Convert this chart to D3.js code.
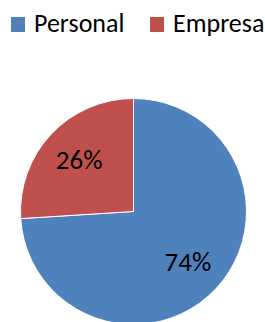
<!DOCTYPE html>
<html>
<head>
<meta charset="utf-8">
<script src="https://cdn.jsdelivr.net/npm/d3@7"></script>
<style>
  body { margin: 0; background: #fff; }
  svg { display: block; font-family: Carlito, Calibri, "Open Sans", sans-serif; }
</style>
</head>
<body>
<div id="chart"></div>
<script>
// data
let categories = ['Personal', 'Empresa'];
let values = [74, 26];
let colors = ['#4F81BD', '#C0504D'];

let width = 265;
let height = 322;

// pie position
let cx = 133.5, cy = 211.5, radius = 113;

let svg = d3.select('#chart').append('svg')
    .attr('width', width)
    .attr('height', height);

let color = d3.scaleOrdinal().domain(categories).range(colors);

let pie = d3.pie()
    .sort(null)
    .value(d => d.value);

let data = categories.map((c, i) => ({ name: c, value: values[i] }));
let arcs = pie(data);
let total = d3.sum(values);

let arc = d3.arc().innerRadius(0).outerRadius(radius);
let labelArc = d3.arc().innerRadius(radius * 0.66).outerRadius(radius * 0.66);

let g = svg.append('g')
    .attr('transform', 'translate(' + cx + ',' + cy + ')');

g.selectAll('.slice')
    .data(arcs)
    .enter()
    .append('path')
    .attr('class', 'slice')
    .attr('d', arc)
    .style('fill', d => color(d.data.name))
    .style('stroke', '#fff')
    .style('stroke-width', 1);

g.selectAll('.label')
    .data(arcs)
    .enter()
    .append('text')
    .attr('class', 'label')
    .attr('transform', d => 'translate(' + labelArc.centroid(d) + ')')
    .attr('text-anchor', 'middle')
    .attr('dy', '0.33em')
    .style('font-size', '27px')
    .style('fill', '#000')
    .text(d => Math.round(d.data.value / total * 100) + '%');

// legend
let legendX = [11, 150];
let legend = svg.selectAll('.legend')
    .data(categories)
    .enter()
    .append('g')
    .attr('class', 'legend')
    .attr('transform', (d, i) => 'translate(' + legendX[i] + ',17)');

legend.append('rect')
    .attr('width', 14)
    .attr('height', 15)
    .style('fill', d => color(d));

legend.append('text')
    .attr('x', 23)
    .attr('y', 15)
    .style('font-size', '26px')
    .style('fill', '#000')
    .text(d => d);
</script>
</body>
</html>
